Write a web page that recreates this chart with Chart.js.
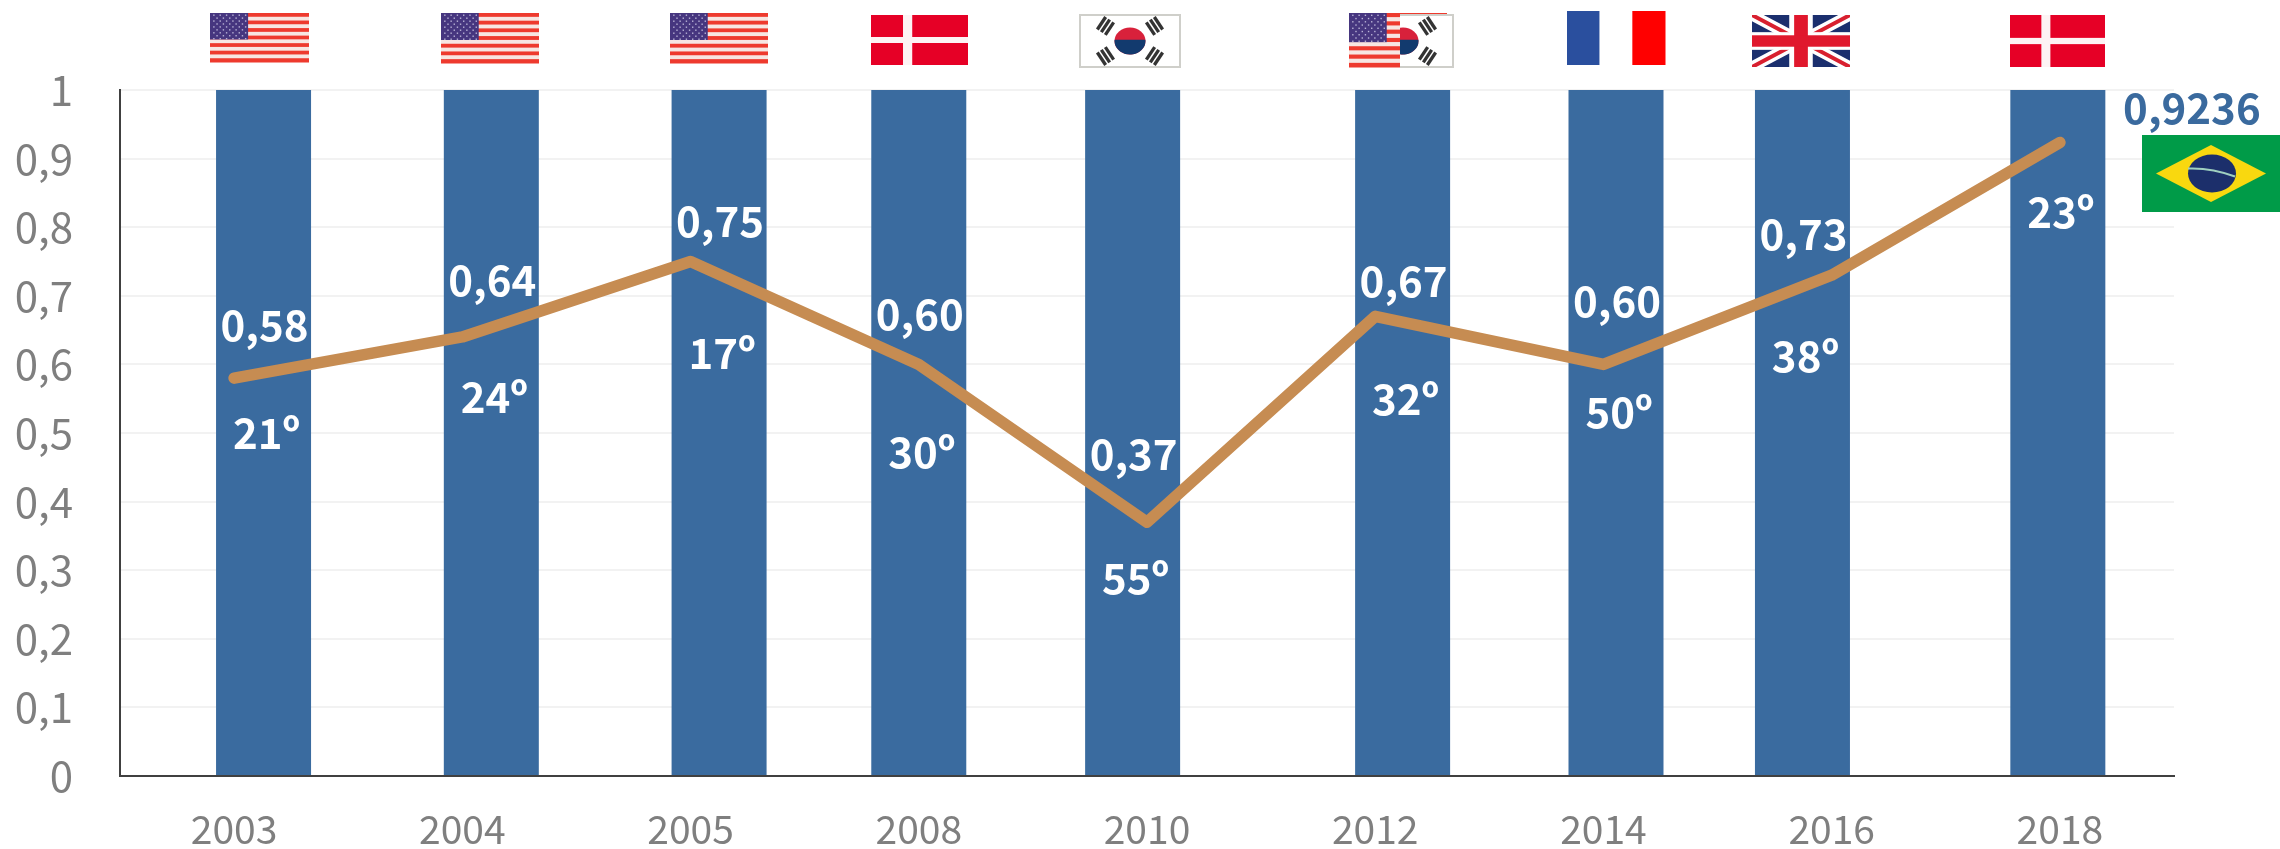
<!DOCTYPE html>
<html><head><meta charset="utf-8">
<style>html,body{margin:0;padding:0;background:#fff}canvas{display:block}</style>
<script src="https://cdn.jsdelivr.net/npm/chart.js@4"></script>
</head><body><canvas id="c" width="2280" height="849"></canvas>
<script>
const years = ['2003','2004','2005','2008','2010','2012','2014','2016','2018'];
const barValues = [1,1,1,1,1,1,1,1,1];
const scores = [0.58,0.64,0.75,0.60,0.37,0.67,0.60,0.73,0.9236];
const scoreLabels = ['0,58','0,64','0,75','0,60','0,37','0,67','0,60','0,73',''];
const rankLabels = ['21º','24º','17º','30º','55º','32º','50º','38º','23º'];
const highlightLabel = '0,9236';
const winners = ['US','US','US','DK','KR','US+KR','FR','GB','DK'];

// layout only
const barSlots = [0.629,1.627,2.625,3.500,4.437,5.620,6.555,7.372,8.491];
const scoreLabelDy = [-53,-57,-40,-50,-68,-35,-63,-41,0];
const rankLabelDy = [55,60,92,88,56,83,48,81,70];
const flagBoxes = [[210,13,99,49],[441,13,98,50],[670,13,98,50],[871,15,97,50],[1080,15,100,52],[1349,13,104,54],[1567,11,98,54],[1752,15,98,52],[2010,15,95,52]];
const FONT = '"Noto Sans CJK SC","Noto Sans",sans-serif';

function usFlag(g,x,y,w,h){
  for(let i=0;i<13;i++){g.fillStyle=i%2?'#f7e6e2':'#ee3a2e';g.fillRect(x,y+i*h/13,w,h/13+.5);}
  const cw=w*.385,ch=h*.54;
  g.fillStyle='#46367f';g.fillRect(x,y,cw,ch);
  g.fillStyle='#b9b3d6';
  for(let r=0;r<9;r++)for(let c=0;c<(r%2?5:6);c++){g.fillRect(x+(c+(r%2?1:.5))*cw/6,y+(r+.5)*ch/9,1.4,1.4);}
}
function dkFlag(g,x,y,w,h){
  g.fillStyle='#e60026';g.fillRect(x,y,w,h);
  g.fillStyle='#fdf3f4';g.fillRect(x+w*.33,y,w*.095,h);g.fillRect(x,y+h*.44,w,h*.12);
}
function frFlag(g,x,y,w,h){
  g.fillStyle='#2a4f9e';g.fillRect(x,y,w/3,h);
  g.fillStyle='#ffffff';g.fillRect(x+w/3,y,w/3,h);
  g.fillStyle='#ff0000';g.fillRect(x+2*w/3,y,w/3+.5,h);
}
function gbFlag(g,x,y,w,h){
  g.save();g.beginPath();g.rect(x,y,w,h);g.clip();
  g.fillStyle='#1b2f6e';g.fillRect(x,y,w,h);
  const diag=(c,lw)=>{g.strokeStyle=c;g.lineWidth=lw;g.beginPath();g.moveTo(x,y);g.lineTo(x+w,y+h);g.moveTo(x+w,y);g.lineTo(x,y+h);g.stroke();};
  diag('#ffffff',11);diag('#d8202f',4);
  g.fillStyle='#ffffff';g.fillRect(x+w*.38,y,w*.24,h);g.fillRect(x,y+h*.33,w,h*.34);
  g.fillStyle='#e0182d';g.fillRect(x+w*.43,y,w*.14,h);g.fillRect(x,y+h*.39,w,h*.22);
  g.restore();
}
function trigram(g,cx,cy,ang,w){
  g.save();g.translate(cx,cy);g.rotate(ang);g.fillStyle='#333333';
  for(let i=-1;i<=1;i++)g.fillRect(-w/2,i*w*.32-w*.11,w,w*.22);
  g.restore();
}
function krFlag(g,x,y,w,h,clipX){
  g.save();
  if(clipX!=null){g.beginPath();g.rect(clipX,y-2,x+w-clipX+2,h+4);g.clip();}
  g.fillStyle='#ffffff';g.fillRect(x,y,w,h);
  g.strokeStyle='#cfcfca';g.lineWidth=2;g.strokeRect(x,y,w,h);
  const cx=x+w/2,cy=y+h/2,rx=w*.155,ry=h*.26;
  g.fillStyle='#d8213b';g.beginPath();g.ellipse(cx,cy,rx,ry,0,0,Math.PI*2);g.fill();
  g.fillStyle='#123a6e';g.beginPath();g.ellipse(cx,cy,rx,ry,0,-.1,Math.PI+.1);g.fill();
  const tx=w*.245,ty=h*.29,ts=w*.15;
  trigram(g,cx-tx,cy-ty,-Math.PI/3.2,ts);trigram(g,cx+tx,cy-ty,Math.PI/3.2,ts);
  trigram(g,cx-tx,cy+ty,Math.PI/3.2,ts);trigram(g,cx+tx,cy+ty,-Math.PI/3.2,ts);
  g.restore();
}
function brFlag(g,x,y,w,h){
  g.fillStyle='#009b48';g.fillRect(x,y,w,h);
  g.fillStyle='#f9d80f';g.beginPath();g.moveTo(x+14,y+h/2);g.lineTo(x+w/2,y+10);g.lineTo(x+w-14,y+h/2);g.lineTo(x+w/2,y+h-10);g.closePath();g.fill();
  g.fillStyle='#1c2f6b';g.beginPath();g.ellipse(x+w/2+1,y+h/2,24,19,0,0,Math.PI*2);g.fill();
  g.strokeStyle='#9fd0c0';g.lineWidth=2;g.beginPath();g.moveTo(x+w/2-23,y+h/2-5);g.quadraticCurveTo(x+w/2,y+h/2-6,x+w/2+24,y+h/2+3);g.stroke();
}

const flagPainter={id:'flags',afterDraw(chart){
  const g=chart.ctx;g.save();
  winners.forEach((code,i)=>{
    const [x,y,w,h]=flagBoxes[i];
    if(code==='US')usFlag(g,x,y,w,h);
    else if(code==='DK')dkFlag(g,x,y,w,h);
    else if(code==='KR')krFlag(g,x,y,w,h);
    else if(code==='FR')frFlag(g,x,y,w,h);
    else if(code==='GB')gbFlag(g,x,y,w,h);
    else if(code==='US+KR'){
      usFlag(g,x,y,98,h);
      g.fillStyle='#ffffff';g.fillRect(x+51,y+2,53,h);
      krFlag(g,x+4,y+2,100,h-2,x+51);
    }
  });
  brFlag(g,2142,135,138,77);
  g.restore();
}};
const labelPainter={id:'markLabels',afterDatasetsDraw(chart){
  const g=chart.ctx,bars=chart.getDatasetMeta(1).data,pts=chart.getDatasetMeta(0).data;
  g.save();g.textAlign='center';g.textBaseline='middle';
  g.font='700 42px '+FONT;g.fillStyle='#ffffff';
  years.forEach((_,i)=>{
    if(scoreLabels[i])g.fillText(scoreLabels[i],bars[i].x+1,pts[i].y+scoreLabelDy[i]);
    g.fillText(rankLabels[i],bars[i].x+3,pts[i].y+rankLabelDy[i]);
  });
  g.fillStyle='#3a6a9e';
  g.fillText(highlightLabel,pts[8].x+132,pts[8].y-34);
  g.restore();
}};

new Chart(document.getElementById('c'),{
  type:'bar',
  data:{labels:years,datasets:[
    {type:'line',label:'Índice',data:scores,xAxisID:'x',yAxisID:'y',order:0,borderColor:'#c68c52',borderWidth:11.5,
     pointRadius:0,tension:0,fill:false,borderCapStyle:'round',borderJoinStyle:'round',clip:false},
    {type:'bar',label:'Barras',data:barValues.map((v,i)=>({x:barSlots[i],y:v})),xAxisID:'xb',yAxisID:'y',order:1,
     backgroundColor:'#3a6b9f',grouped:false,maxBarThickness:95}
  ]},
  options:{
    responsive:false,animation:false,
    layout:{padding:{top:90,right:106,left:0,bottom:0}},
    plugins:{legend:{display:false},tooltip:{enabled:false},title:{display:false}},
    scales:{
      x:{type:'category',offset:true,position:'bottom',
         afterFit(s){s.height=73;},
         grid:{display:false,drawTicks:false},
         border:{display:true,color:'#404040',width:2},
         ticks:{color:'#7f7f7f',font:{family:FONT,size:39},padding:30,maxRotation:0,autoSkip:false}},
      xb:{type:'linear',axis:'x',offset:false,min:0,max:9,display:false,grid:{display:false,offset:false}},
      y:{min:0,max:1,
         afterFit(s){s.width=120;},
         border:{display:true,color:'#404040',width:2},
         grid:{color:'#f2f2f2',lineWidth:2,drawTicks:false},
         ticks:{stepSize:0.1,color:'#7f7f7f',font:{family:FONT,size:42},padding:47,
                callback:v=>String(Math.round(v*10)/10).replace('.',',')}}
    }
  },
  plugins:[labelPainter,flagPainter]
});
</script></body></html>
